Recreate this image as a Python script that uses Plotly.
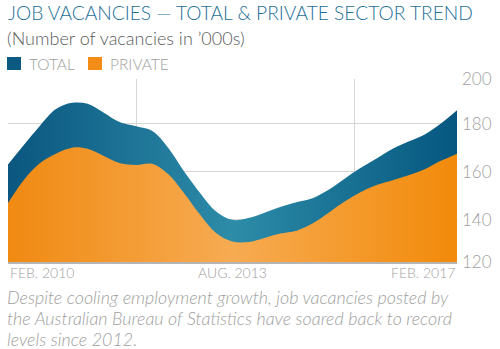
import plotly.graph_objects as go
import pandas as pd

# Quarterly points, Feb 2010 – Feb 2017 (thousands)
dates = pd.date_range("2010-02-01", "2017-02-01", freq="3MS")
total = [163, 171, 179, 186, 188.6, 188.2, 184.5, 180.5, 178.9, 177, 170, 160, 151,
         143.5, 140, 140.8, 143, 145.3, 147.3, 149, 152.5, 157, 161.5, 165.5, 169.5,
         172.5, 175.5, 180, 185.5]
private = [147, 156.5, 163.5, 167.5, 170, 169.5, 166.5, 163.5, 162.8, 163.3, 159, 151,
           142, 134.5, 131, 130.8, 132.5, 134.3, 135.5, 138.5, 143, 147.5, 151.5, 154.5,
           156.5, 158.5, 161, 164.5, 167.5]

y_ticks = [122.5, 140, 160, 180, 198.5]
y_ticktext = ["120", "140", "160", "180", "200"]
x_grid = ["2010-02-01", "2012-02-01", "2015-07-01", "2017-02-01"]
x_labels = [("2010-02-01", "FEB. 2010", "left"),
            ("2013-08-01", "AUG. 2013", "center"),
            ("2017-02-01", "FEB. 2017", "right")]
series_names = ["TOTAL", "PRIVATE"]

BLUE = "#0c5a82"
ORANGE = "#f48d18"
GREY = "#a0a0a0"
FONT = "Lato"

fig = go.Figure()
fig.add_trace(go.Scatter(
    x=dates, y=total, name=series_names[0], mode="lines",
    line=dict(width=0, shape="spline", smoothing=1.0),
    fill="tozeroy", showlegend=False, hoverinfo="skip",
    fillgradient=dict(type="horizontal",
                      colorscale=[[0, "#0a5680"], [0.5, "#2d8ca8"], [1, "#055780"]])))
fig.add_trace(go.Scatter(
    x=dates, y=private, name=series_names[1], mode="lines",
    line=dict(width=0, shape="spline", smoothing=1.0),
    fill="tozeroy", showlegend=False, hoverinfo="skip",
    fillgradient=dict(type="horizontal",
                      colorscale=[[0, "#f08a12"], [0.5, "#f7ab52"], [1, "#f28a0a"]])))

fig.update_xaxes(range=[dates[0], dates[-1]], tickvals=x_grid, showticklabels=False,
                 showgrid=True, gridcolor="#d6d6d6", gridwidth=1, zeroline=False,
                 showline=True, linecolor="#b5b5b5", linewidth=2, ticks="")
fig.update_yaxes(range=[122.5, 198.5], side="right", tickvals=y_ticks, ticktext=y_ticktext,
                 showgrid=True, gridcolor="#d6d6d6", gridwidth=1, zeroline=False,
                 tickfont=dict(family=FONT, size=17, color=GREY, weight=300), ticks="",
                 ticklabelstandoff=4)


def px_y(p):
    return (262 - p) / 183


def px_x(p):
    return (p - 8) / 449


annotations = []
for d, txt, anc in x_labels:
    annotations.append(dict(x=d, y=0, xref="x", yref="paper", yshift=-10, text=txt,
                            xanchor=anc, yanchor="middle", showarrow=False,
                            font=dict(family=FONT, size=14, color=GREY, weight=300)))

annotations.append(dict(x=px_x(6), y=px_y(12), xref="paper", yref="paper",
                        text="JOB VACANCIES — TOTAL & PRIVATE SECTOR TREND",
                        xanchor="left", yanchor="middle", showarrow=False,
                        font=dict(family=FONT, size=19.2, color="#1d6f97", weight=300)))
annotations.append(dict(x=px_x(5), y=px_y(38), xref="paper", yref="paper",
                        text="(Number of vacancies in ’000s)",
                        xanchor="left", yanchor="middle", showarrow=False,
                        font=dict(family=FONT, size=18, color="#5a5a5a", weight=300)))

# legend (swatches + labels)
legend_items = [(series_names[0], BLUE, 7, 27), (series_names[1], ORANGE, 88, 108)]
shapes = []
for name, col, sx, tx in legend_items:
    shapes.append(dict(type="rect", xref="paper", yref="paper",
                       x0=px_x(sx), x1=px_x(sx + 14), y0=px_y(70), y1=px_y(57),
                       fillcolor=col, line=dict(width=0)))
    annotations.append(dict(x=px_x(tx), y=px_y(63.5), xref="paper", yref="paper",
                            text=name, xanchor="left", yanchor="middle", showarrow=False,
                            font=dict(family=FONT, size=15.5, color=GREY, weight=300)))

caption = ["Despite cooling employment growth, job vacancies posted by",
           "the Australian Bureau of Statistics have soared back to record",
           "levels since 2012."]
for i, line in enumerate(caption):
    annotations.append(dict(x=px_x(5), y=px_y(297 + 21 * i), xref="paper", yref="paper",
                            text=line, xanchor="left", yanchor="middle", showarrow=False,
                            font=dict(family=FONT, size=17.9, color=GREY, weight=300,
                                      style="italic")))

fig.update_layout(
    width=500, height=349, margin=dict(l=8, r=43, t=79, b=87, autoexpand=False),
    paper_bgcolor="white", plot_bgcolor="white",
    showlegend=False,
    annotations=annotations, shapes=shapes,
)

fig.write_html("out.html")
